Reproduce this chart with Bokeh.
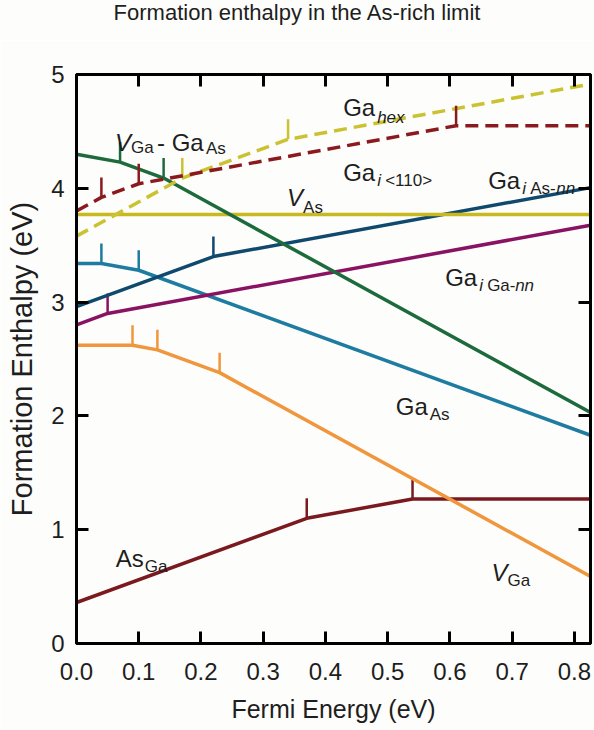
from bokeh.plotting import figure
from bokeh.layouts import column
from bokeh.models import Range1d, LinearAxis, FixedTicker, PrintfTickFormatter, CustomJSTickFormatter, ColumnDataSource, Div
from bokeh.embed import file_html
from bokeh.resources import INLINE
from bokeh.core.properties import value

# ---------------- data (breakpoints of each formation-enthalpy curve) ----------------
x_VGa = [0.0, 0.09, 0.13, 0.23, 0.826]
y_VGa = [2.62, 2.62, 2.58, 2.38, 0.59]

x_AsGa = [0.0, 0.37, 0.54, 0.826]
y_AsGa = [0.36, 1.10, 1.27, 1.27]

x_GaAs = [0.0, 0.04, 0.10, 0.826]
y_GaAs = [3.34, 3.34, 3.28, 1.83]

x_GaiAs = [0.0, 0.22, 0.826]
y_GaiAs = [2.96, 3.40, 4.006]

x_GaiGa = [0.0, 0.05, 0.826]
y_GaiGa = [2.80, 2.90, 3.676]

x_VGaGaAs = [0.0, 0.07, 0.14, 0.826]
y_VGaGaAs = [4.30, 4.23, 4.09, 2.03]

x_VAs = [0.0, 0.826]
y_VAs = [3.77, 3.77]

x_Gai110 = [0.0, 0.04, 0.10, 0.61, 0.826]
y_Gai110 = [3.80, 3.92, 4.04, 4.55, 4.55]

x_Gahex = [0.0, 0.17, 0.34, 0.826]
y_Gahex = [3.58, 4.09, 4.43, 4.916]

x_ticks = [0.0, 0.1, 0.2, 0.3, 0.4, 0.5, 0.6, 0.7, 0.8]
y_ticks = [0, 1, 2, 3, 4, 5]

TITLE = "Formation enthalpy in the As-rich limit"
XLABEL = "Fermi Energy (eV)"
YLABEL = "Formation Enthalpy (eV)"

# ---------------- styles ----------------
FONT = "Liberation Sans"
BG = "#fdfdfb"
TXT = "#1e1e1e"
curves = [
    (x_AsGa, y_AsGa, "#7a1a1f", None),
    (x_VGa, y_VGa, "#f0963c", None),
    (x_GaAs, y_GaAs, "#1e7ca0", None),
    (x_GaiGa, y_GaiGa, "#8a1262", None),
    (x_GaiAs, y_GaiAs, "#0f4a6e", None),
    (x_VAs, y_VAs, "#c8b91e", None),
    (x_VGaGaAs, y_VGaGaAs, "#1d6b3c", None),
    (x_Gahex, y_Gahex, "#cbc232", "13 7"),
    (x_Gai110, y_Gai110, "#8b1a1e", "13 7"),
]
TICK_LEN = 0.176  # eV, length of the transition-level markers

title_html = (f'<div style="font-family:\'{FONT}\'; font-size:22px; line-height:25px; '
              f'color:{TXT}; text-align:center; width:594px; margin:0; padding:0;">{TITLE}</div>')
title = Div(text=title_html, width=594, height=40, margin=0,
            styles={"background-color": BG})

p = figure(width=594, height=690, x_range=Range1d(0, 0.826), y_range=Range1d(0, 5),
           output_backend="svg", toolbar_location=None,
           min_border_left=76, min_border_right=4, min_border_top=34, min_border_bottom=87,
           background_fill_color=BG, border_fill_color=BG)
p.xgrid.visible = False
p.ygrid.visible = False
p.outline_line_color = "black"
p.outline_line_width = 3

def style_axis(ax, ticks, show_labels):
    ax.ticker = FixedTicker(ticks=ticks)
    ax.axis_line_width = 3
    ax.axis_line_color = "black"
    ax.major_tick_in = 12
    ax.major_tick_out = 0
    ax.major_tick_line_width = 3
    ax.minor_tick_line_color = None
    ax.major_label_text_font = FONT
    ax.major_label_text_font_size = "24px"
    ax.major_label_text_color = TXT
    if not show_labels:
        ax.formatter = CustomJSTickFormatter(code="return ''")
        ax.major_label_standoff = 0

xa = p.xaxis[0]
style_axis(xa, x_ticks, True)
xa.formatter = PrintfTickFormatter(format="%.1f")
xa.major_label_standoff = 19
xa.axis_label = XLABEL
xa.axis_label_text_font = FONT
xa.axis_label_text_font_size = "25px"
xa.axis_label_text_font_style = "normal"
xa.axis_label_text_color = TXT
xa.axis_label_standoff = 12

ya = p.yaxis[0]
style_axis(ya, y_ticks, True)
ya.major_label_standoff = 12
ya.axis_label = YLABEL
ya.axis_label_text_font = FONT
ya.axis_label_text_font_size = "29px"
ya.axis_label_text_font_style = "normal"
ya.axis_label_text_color = TXT
ya.axis_label_standoff = 10

top = LinearAxis()
style_axis(top, x_ticks, False)
p.add_layout(top, "above")
right = LinearAxis()
style_axis(right, y_ticks, False)
p.add_layout(right, "right")

for xs, ys, color, dash in curves:
    if dash:
        p.line(xs, ys, line_color=color, line_width=3.5, line_dash=dash)
    else:
        p.line(xs, ys, line_color=color, line_width=3.5)
    # transition level markers at interior breakpoints
    bx = xs[1:-1]
    by = ys[1:-1]
    if bx:
        p.segment(x0=bx, y0=by, x1=bx, y1=[v + TICK_LEN for v in by],
                  line_color=color, line_width=2.5)

# ---------------- labels: anchor (data) + pieces (text, dx px, dy px, size, italic) ----------------
M, S = 24, 17
labels = [
    (0.0619, 4.402, [("V", 0, 0, M, True), ("Ga", 16, 5, S, False), ("- Ga", 42, 0, M, False), ("As", 91, 6, S, False)]),
    (0.4285, 4.713, [("Ga", 0, 0, M, False), ("hex", 34, 10, S, True)]),
    (0.4285, 4.139, [("Ga", 0, 0, M, False), ("i", 34, 8, S, True), ("<110>", 42, 8, S, False)]),
    (0.6616, 4.069, [("Ga", 0, 0, M, False), ("i", 34, 8, S, True), ("As-", 42, 8, S, False), ("nn", 68, 8, S, True)]),
    (0.3384, 3.919, [("V", 0, 0, M, True), ("As", 16, 10, S, False)]),
    (0.5924, 3.216, [("Ga", 0, 0, M, False), ("i", 34, 8, S, True), ("Ga-", 42, 8, S, False), ("nn", 70, 8, S, True)]),
    (0.513, 2.082, [("Ga", 0, 0, M, False), ("As", 34, 8, S, False)]),
    (0.063, 0.751, [("As", 0, 0, M, False), ("Ga", 29, 8, S, False)]),
    (0.667, 0.620, [("V", 0, 0, M, True), ("Ga", 16, 8, S, False)]),
]

groups = {}
for ax_, ay_, pieces in labels:
    for txt, dx, dy, size, ital in pieces:
        g = groups.setdefault((size, ital), dict(x=[], y=[], text=[], dx=[], dy=[]))
        g["x"].append(ax_)
        g["y"].append(ay_)
        g["text"].append(txt)
        g["dx"].append(dx)
        g["dy"].append(dy)

for (size, ital), g in groups.items():
    src = ColumnDataSource(g)
    p.text(x="x", y="y", text="text", x_offset="dx", y_offset="dy", source=src,
           text_font=value(FONT), text_font_size=value(f"{size}px"),
           text_font_style="italic" if ital else "normal",
           text_color=TXT, text_align="left", text_baseline="alphabetic")

layout = column(title, p, spacing=0)
open("out.html", "w").write(file_html(layout, INLINE))
